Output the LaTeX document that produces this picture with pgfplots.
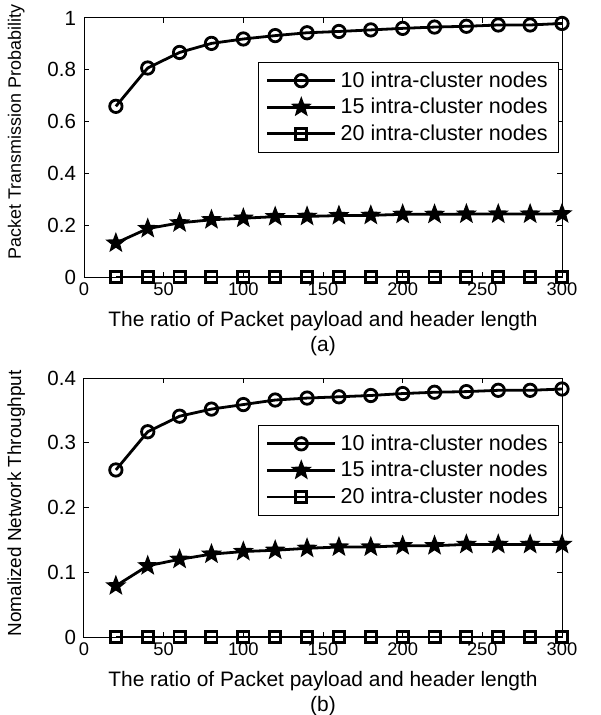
\documentclass[border=0pt]{standalone}
\usepackage{fontspec}
\setmainfont{Liberation Sans}
\usepackage{pgfplots}
\usepackage{pgfplotstable}
\pgfplotsset{compat=1.18}

% filled five-pointed star, like MATLAB's pentagram
\pgfdeclareplotmark{fstar}{%
  \pgfpathmoveto{\pgfpointpolar{90}{\pgfplotmarksize}}%
  \pgfpathlineto{\pgfpointpolar{126}{0.42\pgfplotmarksize}}%
  \pgfpathlineto{\pgfpointpolar{162}{\pgfplotmarksize}}%
  \pgfpathlineto{\pgfpointpolar{198}{0.42\pgfplotmarksize}}%
  \pgfpathlineto{\pgfpointpolar{234}{\pgfplotmarksize}}%
  \pgfpathlineto{\pgfpointpolar{270}{0.42\pgfplotmarksize}}%
  \pgfpathlineto{\pgfpointpolar{306}{\pgfplotmarksize}}%
  \pgfpathlineto{\pgfpointpolar{342}{0.42\pgfplotmarksize}}%
  \pgfpathlineto{\pgfpointpolar{18}{\pgfplotmarksize}}%
  \pgfpathlineto{\pgfpointpolar{54}{0.42\pgfplotmarksize}}%
  \pgfpathclose
  \pgfusepathqfillstroke
}

% x  10 nodes  15 nodes  20 nodes
\pgfplotstableread{
x   a     b     c
20  0.659 0.131 0
40  0.807 0.187 0
60  0.867 0.209 0
80  0.902 0.221 0
100 0.919 0.227 0
120 0.932 0.233 0
140 0.943 0.234 0
160 0.948 0.237 0
180 0.954 0.238 0
200 0.960 0.242 0
220 0.965 0.242 0
240 0.968 0.243 0
260 0.973 0.243 0
280 0.973 0.243 0
300 0.979 0.244 0
}\probtable

\pgfplotstableread{
x   a     b     c
20  0.258 0.079 0
40  0.317 0.110 0
60  0.341 0.120 0
80  0.352 0.128 0
100 0.359 0.132 0
120 0.366 0.134 0
140 0.369 0.137 0
160 0.371 0.139 0
180 0.373 0.139 0
200 0.376 0.141 0
220 0.378 0.141 0
240 0.379 0.143 0
260 0.381 0.143 0
280 0.381 0.143 0
300 0.383 0.143 0
}\thrtable

\pgfplotsset{
  matlab/.style={
    scale only axis,
    width=239bp, height=129.5bp,
    xmin=0, xmax=300,
    xtick={0,50,...,300},
    tick align=inside,
    major tick length=2.5bp,
    axis line style={line width=0.5bp},
    every tick/.style={black, line width=0.5bp},
    clip=false,
    /pgf/number format/assume math mode=true,
    xticklabel style={font=\fontsize{9.2}{9.2}\selectfont, yshift=0.5bp},
    yticklabel style={font=\fontsize{10.3}{10.3}\selectfont, xshift=-0.5bp},
    label style={font=\fontsize{10.5}{12.5}\selectfont},
    xlabel style={at={(axis description cs:0.5,0)}, anchor=north, yshift=-13.5bp, align=center},
    legend style={at={(rel axis cs:0.9937,0.83)}, anchor=north east,
      draw=black, font=\fontsize{10.8}{10.8}\selectfont,
      inner xsep=3.5bp, inner ysep=2.5bp, row sep=0bp, cells={anchor=west}},
    legend image code/.code={%
      \draw[line width=1.4bp, mark repeat=2, mark phase=2]
        plot coordinates {(0bp,0bp) (17bp,0bp) (34bp,0bp)};},
    p10/.style={black, line width=1.4bp, mark=o, mark size=3.1bp,
      mark options={line width=1.4bp}},
    p15/.style={black, line width=1.4bp, mark=fstar, mark size=4.4bp,
      mark options={fill=black, line width=0.8bp}},
    p20/.style={black, line width=1.4bp, mark=square, mark size=2.8bp,
      mark options={line width=1.4bp}},
  }
}

\begin{document}
\begin{tikzpicture}
\begin{axis}[matlab,
  ymin=0, ymax=1,
  ytick={0,0.2,...,1},
  ylabel={Packet Transmission Probability},
  ylabel style={at={(axis description cs:-0.142,0.56)}, anchor=center, font=\fontsize{9}{9}\selectfont},
  xlabel={The ratio of Packet payload and header length\\(a)},
]
\addplot[p10] table[x=x, y=a] {\probtable};
\addplot[p15] table[x=x, y=b] {\probtable};
\addplot[p20] table[x=x, y=c] {\probtable};
\legend{10 intra-cluster nodes, 15 intra-cluster nodes, 20 intra-cluster nodes}
\end{axis}

\begin{axis}[matlab, yshift=-180bp,
  ymin=0, ymax=0.4,
  ytick={0,0.1,...,0.4},
  ylabel={Nomalized Network Throughput},
  ylabel style={at={(axis description cs:-0.142,0.516)}, anchor=center, font=\fontsize{9.5}{9.5}\selectfont},
  xlabel={The ratio of Packet payload and header length\\(b)},
  legend style={at={(rel axis cs:0.9937,0.818)}},
]
\addplot[p10] table[x=x, y=a] {\thrtable};
\addplot[p15] table[x=x, y=b] {\thrtable};
\addplot[p20] table[x=x, y=c] {\thrtable};
\legend{10 intra-cluster nodes, 15 intra-cluster nodes, 20 intra-cluster nodes}
\end{axis}

\pgfresetboundingbox
\useasboundingbox (-42bp,-219bp) rectangle (258.5bp,138.5bp);
\end{tikzpicture}
\end{document}
